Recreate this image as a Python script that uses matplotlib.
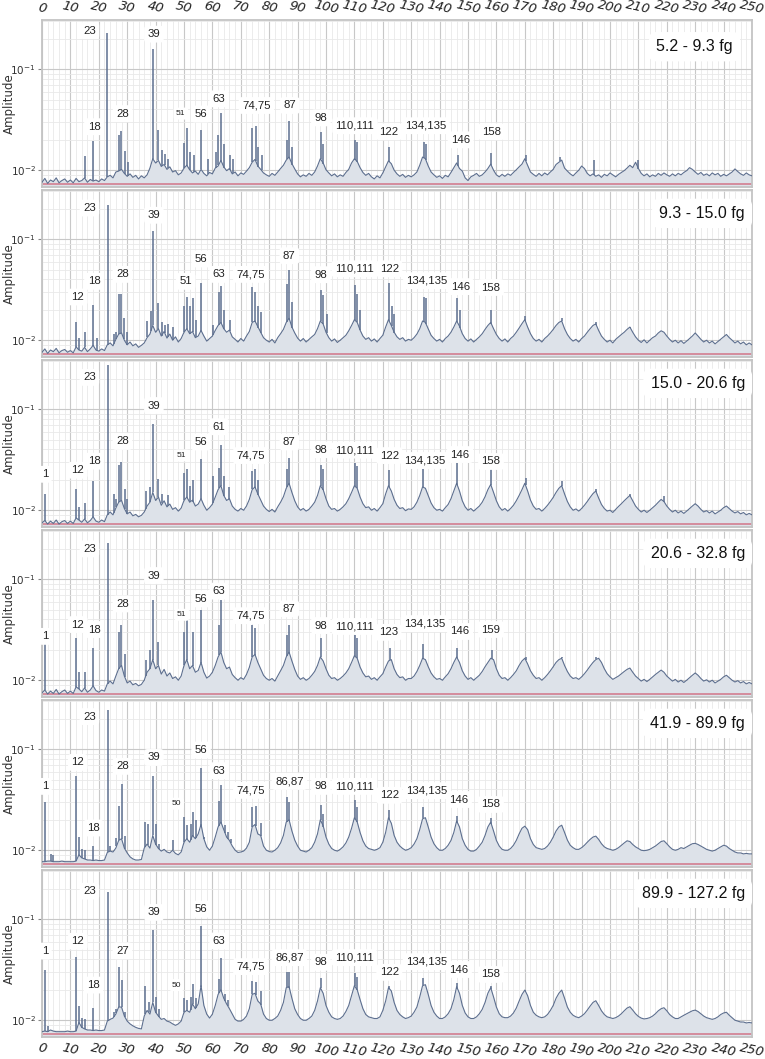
import numpy as np
import matplotlib.pyplot as plt
from matplotlib.ticker import MultipleLocator, LogLocator, NullFormatter

# mass ranges of the six panels
ranges = ["5.2 - 9.3 fg", "9.3 - 15.0 fg", "15.0 - 20.6 fg",
          "20.6 - 32.8 fg", "41.9 - 89.9 fg", "89.9 - 127.2 fg"]

# noise floor / broad peaks at harmonic 0..250 (step 1), amplitude in units of 1e-3
floor_1 = [7.6, 8.3, 7.4, 8.0, 7.7, 8.4, 7.5, 7.9, 8.2, 7.6,
           8.0, 7.5, 8.3, 7.7, 7.9, 8.4, 7.6, 8.1, 7.8, 8.0,
           7.7, 8.2, 7.9, 8.6, 8.9, 8.4, 9.6, 9.8, 10.2, 9.3,
           8.7, 9.2, 8.5, 8.9, 8.2, 8.8, 8.4, 9.0, 10.5, 13.0,
           11.8, 12.5, 10.9, 11.4, 10.2, 10.8, 9.6, 9.9, 9.0, 9.4,
           10.5, 11.2, 10.1, 9.4, 9.8, 9.1, 10.2, 9.3, 8.8, 9.5,
           9.2, 10.5, 11.0, 12.5, 10.8, 9.9, 10.4, 9.2, 9.6, 8.8,
           9.4, 9.1, 9.8, 10.6, 12.0, 12.8, 11.0, 10.2, 9.4, 9.0,
           8.7, 9.3, 8.9, 9.6, 10.4, 11.2, 12.6, 13.5, 11.6, 10.3,
           9.2, 8.6, 9.0, 8.7, 9.3, 8.9, 9.6, 11.0, 13.0, 11.8,
           10.1, 9.4, 8.8, 9.2, 8.6, 9.0, 8.7, 9.5, 10.2, 11.8,
           13.0, 12.2, 10.6, 9.5, 8.9, 9.3, 8.6, 8.2, 8.8, 8.4,
           9.4, 10.8, 12.4, 11.6, 10.0, 9.2, 8.7, 9.1, 8.5, 8.9,
           8.6, 9.0, 9.6, 11.2, 13.5, 13.0, 11.0, 9.6, 9.0, 8.5,
           8.8, 8.3, 8.9, 8.6, 9.5, 10.6, 11.8, 10.4, 9.8, 8.4,
           7.9, 8.6, 8.9, 9.3, 8.7, 9.0, 9.6, 10.4, 11.5, 10.0,
           9.0, 8.6, 9.1, 8.7, 9.2, 8.9, 9.5, 10.1, 10.8, 11.5,
           13.0, 11.2, 9.6, 9.1, 8.7, 9.3, 8.8, 9.4, 9.0, 9.6,
           10.2, 11.4, 12.0, 12.6, 10.5, 9.8, 9.2, 8.8, 9.4, 10.0,
           11.0, 10.4, 9.3, 8.8, 9.2, 8.7, 9.0, 8.5, 9.1, 8.8,
           9.4, 9.0, 8.6, 9.1, 9.5, 9.9, 10.5, 11.2, 10.6, 12.0,
           10.4, 9.3, 8.8, 9.2, 8.6, 9.0, 8.7, 9.3, 8.9, 9.4,
           9.0, 8.7, 9.2, 8.8, 9.3, 9.0, 9.5, 9.9, 10.6, 10.2,
           9.6, 9.1, 9.5, 8.9, 9.2, 8.8, 9.4, 9.0, 9.3, 8.7,
           9.1, 8.8, 9.2, 9.6, 10.3, 9.7, 9.2, 8.9, 9.4, 9.0,
           8.8]
floor_2 = [7.6, 8.2, 7.4, 8.0, 7.7, 8.3, 7.5, 7.9, 8.1, 7.6,
           7.9, 7.5, 8.6, 8.0, 7.8, 8.5, 7.7, 8.2, 8.9, 8.0,
           7.8, 8.2, 7.9, 9.0, 9.4, 8.8, 10.2, 11.5, 11.8, 10.0,
           9.0, 9.6, 8.8, 9.2, 8.5, 8.9, 9.4, 10.6, 11.5, 14.0,
           12.0, 13.0, 11.0, 12.2, 10.5, 11.5, 10.0, 10.8, 9.6, 10.4,
           12.0, 13.0, 11.6, 12.2, 10.6, 11.0, 12.5, 11.0, 9.8, 10.4,
           11.0, 12.5, 14.0, 15.0, 13.0, 12.0, 12.6, 10.8, 10.2, 9.6,
           10.4, 9.8, 11.0, 12.2, 15.0, 15.5, 13.6, 12.0, 10.6, 10.0,
           9.6, 10.2, 9.4, 10.6, 11.6, 12.8, 15.0, 16.5, 13.5, 11.8,
           10.5, 9.8, 10.4, 9.6, 10.2, 10.8, 11.4, 13.0, 15.5, 14.5,
           12.0, 10.6, 9.8, 10.3, 9.5, 10.0, 10.6, 11.2, 12.4, 14.0,
           16.0, 15.0, 12.6, 11.0, 10.2, 10.6, 9.8, 10.3, 9.6, 10.4,
           11.2, 13.5, 16.0, 14.0, 12.0, 10.8, 10.2, 10.6, 9.8, 10.2,
           10.0, 10.6, 11.5, 13.0, 15.5, 15.0, 13.0, 11.2, 10.4, 9.8,
           10.2, 9.6, 10.4, 11.0, 12.0, 13.5, 15.5, 13.8, 11.6, 10.4,
           9.8, 10.3, 9.6, 10.2, 10.8, 11.6, 12.8, 14.0, 15.0, 13.0,
           11.4, 10.4, 9.8, 10.3, 9.6, 10.4, 11.0, 12.0, 13.2, 14.6,
           16.0, 13.5, 11.6, 10.4, 9.8, 10.2, 9.6, 10.4, 11.0, 11.8,
           12.8, 14.0, 15.0, 15.5, 13.0, 11.4, 10.4, 9.8, 10.2, 9.6,
           10.4, 11.0, 12.0, 13.0, 14.0, 14.5, 12.5, 11.0, 10.2, 9.6,
           10.0, 9.4, 10.2, 10.8, 11.4, 12.0, 12.8, 13.5, 12.0, 10.8,
           10.0, 9.5, 10.1, 9.4, 10.0, 10.6, 11.0, 11.8, 12.4, 12.0,
           11.0, 10.2, 9.6, 10.0, 9.4, 9.9, 9.3, 9.8, 10.4, 11.0,
           11.8, 11.0, 10.2, 9.6, 10.0, 9.4, 9.8, 9.2, 9.7, 10.2,
           10.8, 11.4, 10.6, 10.0, 9.4, 9.8, 9.2, 9.6, 9.0, 9.4,
           9.0]
floor_3 = [7.5, 7.9, 7.3, 7.8, 7.4, 8.0, 7.3, 7.7, 7.9, 7.4,
           7.8, 7.4, 8.4, 8.0, 7.6, 8.2, 7.5, 7.9, 8.6, 7.8,
           7.6, 8.0, 7.7, 9.0, 9.6, 9.0, 10.5, 12.0, 12.5, 10.4,
           9.2, 9.6, 8.8, 9.1, 8.6, 8.9, 9.6, 11.0, 12.0, 15.0,
           12.5, 13.5, 11.2, 12.4, 10.8, 11.5, 10.2, 10.6, 9.8, 10.5,
           12.5, 13.5, 12.0, 12.6, 11.0, 11.5, 13.0, 11.2, 10.0, 10.6,
           11.5, 13.5, 16.0, 17.5, 14.0, 12.5, 13.0, 11.0, 10.2, 9.8,
           10.4, 10.0, 11.0, 12.8, 16.0, 17.0, 14.5, 12.6, 11.0, 10.2,
           9.7, 10.2, 9.6, 10.8, 12.0, 13.6, 16.5, 18.5, 15.0, 12.4,
           10.8, 10.0, 10.4, 9.8, 10.2, 11.0, 12.0, 14.0, 17.5, 16.0,
           13.0, 11.0, 10.2, 10.4, 9.8, 10.2, 10.8, 11.6, 13.0, 15.0,
           17.5, 16.5, 13.5, 11.6, 10.6, 10.8, 10.0, 10.4, 9.8, 10.6,
           11.6, 14.5, 17.5, 15.5, 12.8, 11.2, 10.4, 10.6, 9.9, 10.3,
           10.2, 10.8, 12.0, 14.0, 17.0, 16.5, 14.0, 11.8, 10.6, 10.0,
           10.2, 9.8, 10.6, 11.4, 13.0, 15.5, 18.5, 15.5, 12.4, 10.8,
           10.0, 10.4, 9.8, 10.4, 11.0, 12.0, 13.6, 16.0, 18.0, 15.0,
           12.4, 10.8, 10.0, 10.4, 9.8, 10.4, 11.2, 12.4, 14.0, 16.0,
           18.5, 15.5, 12.6, 11.0, 10.2, 10.4, 9.8, 10.4, 11.2, 12.2,
           13.4, 15.0, 16.5, 17.5, 14.5, 12.2, 10.8, 10.0, 10.3, 9.8,
           10.4, 11.2, 12.2, 13.4, 14.6, 15.5, 13.2, 11.4, 10.4, 9.8,
           10.0, 9.5, 10.2, 10.9, 11.6, 12.4, 13.2, 14.0, 12.4, 11.0,
           10.2, 9.6, 10.0, 9.5, 10.0, 10.6, 11.2, 12.0, 12.8, 12.2,
           11.0, 10.2, 9.6, 10.0, 9.4, 9.8, 9.3, 9.8, 10.4, 11.0,
           11.6, 11.0, 10.2, 9.6, 9.9, 9.4, 9.8, 9.2, 9.6, 10.0,
           10.6, 11.0, 10.4, 9.8, 9.4, 9.7, 9.2, 9.5, 9.0, 9.3,
           9.0]
floor_4 = [7.5, 8.0, 7.3, 7.8, 7.4, 8.1, 7.3, 7.7, 8.0, 7.4,
           7.8, 7.4, 8.6, 8.2, 7.7, 8.4, 7.6, 8.0, 8.8, 7.9,
           7.6, 8.0, 7.8, 9.2, 9.8, 9.2, 11.0, 13.0, 14.0, 11.0,
           9.4, 9.8, 9.0, 9.3, 8.8, 9.1, 10.0, 12.0, 13.0, 16.0,
           13.0, 14.0, 11.5, 12.8, 11.0, 11.8, 10.4, 10.8, 10.0, 11.0,
           14.0, 16.0, 13.0, 14.0, 12.0, 12.5, 15.0, 12.0, 10.5, 11.0,
           12.0, 14.0, 17.0, 19.0, 15.0, 13.0, 13.5, 11.4, 10.6, 10.0,
           10.6, 10.2, 11.4, 13.4, 17.0, 18.0, 15.0, 13.0, 11.2, 10.4,
           10.0, 10.4, 9.8, 11.0, 12.4, 14.0, 17.0, 19.0, 15.5, 12.8,
           11.0, 10.2, 10.6, 10.0, 10.4, 11.2, 12.2, 14.0, 17.0, 15.5,
           13.0, 11.2, 10.4, 10.6, 10.0, 10.4, 11.0, 11.8, 13.0, 15.0,
           17.5, 16.5, 13.5, 11.8, 10.8, 11.0, 10.2, 10.6, 10.0, 10.8,
           11.6, 13.5, 15.5, 16.0, 13.0, 11.4, 10.6, 10.8, 10.0, 10.4,
           10.4, 11.0, 12.2, 14.0, 16.5, 16.0, 13.6, 11.8, 10.8, 10.2,
           10.4, 10.0, 10.8, 11.6, 13.0, 15.0, 17.0, 15.0, 12.4, 11.0,
           10.2, 10.6, 10.0, 10.6, 11.2, 12.2, 13.6, 15.0, 16.5, 16.0,
           13.0, 11.2, 10.4, 10.6, 10.0, 10.6, 11.4, 12.4, 14.0, 15.5,
           16.5, 14.5, 12.4, 11.2, 10.4, 10.6, 10.0, 10.6, 11.4, 12.4,
           13.6, 15.0, 16.0, 16.5, 14.0, 12.2, 11.0, 10.4, 10.6, 10.2,
           10.8, 11.6, 12.6, 13.8, 15.0, 16.0, 16.5, 15.0, 13.0, 11.6,
           10.8, 10.2, 10.6, 11.0, 11.6, 12.2, 12.8, 13.2, 12.0, 11.0,
           10.4, 9.8, 10.2, 9.7, 10.2, 10.8, 11.4, 12.0, 12.6, 12.0,
           11.0, 10.4, 9.8, 10.2, 9.6, 10.0, 9.5, 10.0, 10.6, 11.2,
           11.8, 11.2, 10.4, 9.8, 10.1, 9.6, 10.0, 9.4, 9.8, 10.2,
           10.8, 11.2, 10.6, 10.0, 9.6, 9.9, 9.4, 9.7, 9.2, 9.5,
           9.2]
floor_5 = [7.7, 7.7, 7.8, 7.8, 7.7, 7.7, 7.7, 7.8, 7.7, 7.7,
           7.7, 7.7, 7.8, 9.0, 8.4, 8.2, 8.0, 8.0, 7.9, 8.0,
           7.9, 7.9, 8.0, 9.5, 9.8, 9.6, 10.5, 12.5, 13.0, 10.5,
           9.4, 8.6, 8.2, 8.0, 8.0, 8.1, 10.5, 11.5, 10.5, 14.0,
           11.5, 10.4, 9.8, 10.2, 9.6, 9.4, 10.0, 9.3, 9.0, 9.6,
           12.0, 13.0, 12.0, 14.0, 13.0, 14.5, 18.0, 13.0, 10.8, 10.0,
           11.0, 13.5, 17.0, 19.0, 16.0, 13.5, 12.5, 11.0, 10.0, 9.5,
           9.6, 9.8, 10.5, 12.0, 17.0, 18.0, 14.5, 14.0, 11.0, 10.0,
           9.7, 9.6, 10.0, 10.6, 11.8, 14.0, 19.0, 20.0, 15.5, 12.6,
           11.0, 10.0, 9.8, 9.6, 10.0, 10.6, 12.0, 14.5, 20.0, 17.5,
           13.5, 11.5, 10.4, 10.0, 9.8, 10.2, 10.8, 11.8, 13.5, 16.5,
           21.0, 19.0, 15.0, 12.4, 11.0, 10.4, 10.2, 10.0, 10.2, 10.6,
           12.0, 15.0, 21.0, 18.5, 14.0, 12.0, 11.0, 10.4, 10.0, 10.2,
           10.6, 11.5, 13.0, 16.0, 20.5, 21.0, 17.0, 13.5, 11.6, 10.6,
           10.0, 10.0, 10.4, 11.2, 12.5, 15.0, 19.5, 17.0, 13.0, 11.2,
           10.2, 9.8, 9.8, 10.2, 11.0, 12.0, 14.0, 17.0, 19.0, 15.5,
           12.5, 11.0, 10.2, 10.0, 10.0, 10.4, 11.2, 12.5, 14.5, 16.5,
           17.3, 16.0, 13.0, 11.4, 10.6, 10.4, 10.2, 10.4, 11.0, 12.0,
           13.5, 15.5, 17.0, 17.7, 15.0, 12.6, 11.2, 10.6, 10.2, 10.2,
           10.6, 11.2, 12.0, 12.8, 13.5, 13.8, 12.8, 11.6, 10.8, 10.4,
           10.2, 10.0, 10.2, 10.6, 11.2, 11.8, 12.4, 12.2, 11.4, 10.8,
           10.4, 10.0, 9.9, 10.0, 10.2, 10.6, 11.0, 11.6, 12.2, 12.4,
           11.6, 10.8, 10.2, 10.0, 10.2, 10.6, 10.4, 10.8, 11.2, 11.6,
           11.7, 11.4, 11.0, 10.6, 10.2, 10.0, 9.8, 10.0, 10.4, 10.8,
           11.2, 11.0, 10.4, 10.0, 9.6, 9.4, 9.4, 9.2, 9.3, 9.2,
           9.2]
floor_6 = [7.7, 7.8, 7.7, 8.0, 7.8, 7.7, 7.7, 7.7, 7.7, 7.8,
           7.7, 7.7, 7.8, 9.5, 8.5, 8.2, 8.0, 8.0, 7.9, 8.0,
           7.9, 7.9, 8.0, 9.8, 10.2, 10.5, 11.5, 13.5, 13.5, 11.0,
           9.8, 9.2, 8.8, 8.5, 8.3, 8.2, 11.0, 12.5, 11.5, 15.0,
           12.0, 11.0, 10.2, 10.4, 9.8, 9.6, 9.2, 8.9, 9.2, 9.8,
           12.0, 12.5, 12.0, 14.5, 13.0, 14.5, 22.0, 14.0, 11.5, 10.5,
           11.5, 14.0, 18.0, 20.0, 16.5, 14.5, 13.0, 11.5, 10.2, 9.8,
           9.8, 10.2, 11.0, 13.0, 18.0, 18.5, 15.5, 14.5, 11.5, 10.4,
           10.0, 10.0, 10.4, 11.0, 12.5, 15.0, 21.0, 21.5, 16.5, 13.0,
           11.4, 10.4, 10.0, 10.0, 10.4, 11.0, 12.5, 15.5, 21.0, 18.5,
           14.0, 12.0, 10.8, 10.4, 10.2, 10.4, 11.0, 12.2, 14.0, 17.5,
           22.0, 20.0, 16.0, 13.0, 11.4, 10.8, 10.6, 10.4, 10.4, 10.8,
           12.5, 15.5, 21.0, 19.5, 15.0, 12.5, 11.4, 10.8, 10.4, 10.6,
           11.0, 12.0, 13.5, 17.0, 22.0, 22.5, 18.0, 14.0, 12.0, 11.0,
           10.4, 10.4, 10.8, 11.6, 13.0, 16.0, 21.5, 18.5, 14.0, 11.8,
           10.8, 10.4, 10.4, 10.8, 11.6, 12.8, 15.0, 18.5, 21.0, 17.0,
           13.5, 11.6, 10.8, 10.6, 10.6, 11.0, 11.8, 13.2, 15.5, 18.0,
           19.9, 17.5, 14.0, 12.0, 11.2, 10.8, 10.6, 10.8, 11.4, 12.5,
           14.0, 16.5, 18.5, 19.9, 16.5, 13.5, 12.0, 11.2, 10.8, 10.6,
           11.0, 11.6, 12.6, 13.8, 15.0, 15.6, 14.0, 12.4, 11.4, 10.8,
           10.6, 10.4, 10.6, 11.0, 11.6, 12.4, 13.2, 13.6, 12.6, 11.6,
           10.9, 10.5, 10.3, 10.4, 10.6, 11.0, 11.6, 12.4, 13.0, 13.3,
           12.4, 11.4, 10.8, 10.4, 10.4, 10.8, 11.2, 11.6, 12.0, 12.4,
           12.6, 12.2, 11.6, 11.0, 10.6, 10.4, 10.2, 10.4, 10.8, 11.4,
           11.8, 12.0, 11.2, 10.6, 10.0, 9.8, 9.6, 9.6, 9.4, 9.5,
           9.4]

# narrow lines: harmonic position and height (1e-3)
spike_x_1 = [15.0, 18.1, 23.0, 27.0, 27.9, 29.1, 30.2, 39.0, 41.0, 42.2, 43.2, 44.5,
             50.1, 51.2, 52.2, 53.5, 56.0, 58.5, 61.2, 62.1, 63.1, 64.2, 66.3, 67.3,
             74.1, 75.2, 76.2, 77.3, 86.2, 87.1, 88.2, 98.1, 99.1, 110.3, 111.0,
             122.3, 134.4, 135.2, 146.5, 158.2, 170.4, 182.5, 194.5, 210.0]
spike_y_1 = [13.8, 19.6, 228, 22.2, 24.5, 15.5, 12.0, 159, 25.0, 16.0, 14.5, 13.0,
             18.6, 26.5, 15.0, 14.0, 24.9, 13.0, 15.0, 22.2, 37.2, 18.0, 14.0, 13.0,
             26.0, 27.4, 17.0, 14.0, 20.0, 30.6, 17.0, 24.1, 18.0, 20.0, 19.0,
             16.8, 19.0, 18.1, 14.3, 14.8, 14.3, 13.5, 12.5, 12.7]
spike_x_2 = [12.0, 13.1, 15.0, 18.1, 19.5, 23.1, 25.2, 26.1, 27.0, 27.9, 28.9, 30.1,
             37.1, 38.3, 39.0, 41.0, 42.1, 43.2, 44.3, 46.0, 50.0, 51.1, 52.0, 53.1,
             54.2, 56.1, 60.1, 62.2, 63.1, 64.2, 66.2, 74.1, 75.1, 76.2, 77.2, 86.1,
             87.1, 88.2, 98.1, 99.0, 100.2, 110.2, 111.0, 112.0, 122.3, 123.1, 124.1,
             134.4, 135.3, 146.2, 147.3, 158.2, 170.2, 183.0, 195.2, 207.2]
spike_y_2 = [15.0, 10.5, 12.1, 22.1, 10.5, 219, 11.5, 12.1, 28.4, 29.0, 16.6, 12.0,
             15.5, 19.4, 120, 23.2, 15.0, 14.3, 14.5, 13.5, 22.0, 27.0, 21.7, 26.0,
             16.0, 37.0, 14.0, 30.2, 34.2, 20.0, 16.0, 33.8, 29.8, 22.0, 19.0, 36.4,
             49.1, 24.0, 31.4, 27.8, 18.0, 35.0, 28.4, 20.0, 37.0, 21.7, 18.0,
             27.0, 26.0, 26.0, 20.0, 20.0, 17.4, 16.6, 15.0, 13.5]
spike_x_3 = [1.05, 12.0, 13.1, 15.0, 18.1, 23.1, 25.2, 26.2, 27.0, 27.9, 29.1, 30.1,
             36.5, 38.0, 39.0, 41.0, 42.4, 44.3, 50.0, 51.1, 52.1, 53.3, 56.1, 60.2,
             62.3, 63.0, 64.2, 66.0, 74.1, 75.1, 76.2, 86.2, 87.1, 98.1, 99.0, 110.2,
             111.0, 122.3, 134.3, 146.2, 158.1, 170.3, 183.0, 195.2, 207.2, 219.0]
spike_y_3 = [14.5, 16.4, 10.8, 11.9, 19.6, 275, 14.5, 13.0, 27.8, 30.2, 16.2, 13.0,
             15.6, 16.8, 71.4, 20.3, 14.5, 14.0, 23.6, 25.8, 17.4, 20.0, 32.5, 21.8,
             26.0, 44.5, 22.0, 17.0, 24.5, 25.8, 20.0, 25.4, 33.0, 27.8, 25.4, 29.1,
             27.4, 25.0, 25.4, 31.8, 26.6, 21.0, 19.4, 16.2, 14.5, 13.8]
spike_x_4 = [1.05, 12.0, 13.1, 15.0, 18.1, 23.1, 27.0, 27.9, 29.1, 36.5, 38.0, 39.0,
             41.0, 50.0, 51.1, 53.1, 56.1, 62.3, 63.0, 74.1, 75.1, 86.2, 87.1, 98.1,
             110.2, 111.0, 122.6, 134.3, 146.2, 158.5, 170.3, 183.0, 195.2]
spike_y_4 = [25.0, 26.5, 12.0, 12.0, 21.0, 230, 30.0, 35.5, 18.0, 16.0, 20.0, 62.0,
             24.0, 30.0, 42.7, 30.0, 50.0, 35.0, 62.0, 35.0, 33.0, 28.0, 35.0, 26.0,
             28.0, 26.0, 20.9, 23.0, 21.0, 20.0, 17.0, 17.0, 17.0]
spike_x_5 = [1.0, 3.0, 4.0, 12.0, 13.1, 14.1, 15.0, 18.1, 23.1, 24.1, 26.2, 27.0,
             28.0, 29.1, 36.3, 37.3, 39.0, 40.3, 41.3, 46.0, 50.0, 51.1, 52.3, 53.1,
             54.2, 56.1, 57.1, 62.2, 63.1, 64.5, 65.5, 66.5, 74.1, 75.2, 77.1, 86.2,
             87.1, 98.1, 99.1, 110.2, 111.0, 122.3, 134.3, 146.3, 158.2]
spike_y_5 = [30.2, 9.1, 9.0, 54.2, 13.5, 10.2, 10.0, 11.0, 245, 11.0, 13.3, 27.6,
             45.5, 13.7, 18.9, 18.0, 55.0, 18.0, 11.4, 12.6, 21.2, 17.7, 18.0, 23.8,
             20.0, 65.3, 13.5, 30.6, 44.5, 17.7, 15.0, 13.0, 27.0, 27.5, 18.6, 33.8,
             30.0, 28.0, 23.0, 31.4, 27.0, 24.9, 27.0, 21.7, 20.7]
spike_x_6 = [1.0, 2.0, 12.0, 13.1, 14.1, 15.0, 18.1, 23.1, 25.2, 26.2, 27.0, 28.0,
             29.1, 36.3, 37.5, 39.0, 40.3, 41.3, 50.0, 51.1, 52.3, 53.1, 54.2, 56.1,
             62.2, 63.1, 64.5, 65.5, 74.1, 75.2, 77.1, 86.2, 87.1, 98.1, 110.2, 111.0,
             122.3, 134.3, 146.3, 158.2, 170.2, 183.0]
spike_y_6 = [31.6, 8.8, 41.9, 13.8, 10.5, 10.2, 13.3, 188, 12.0, 12.9, 34.0, 25.2,
             12.0, 21.7, 15.2, 78.6, 17.0, 13.0, 16.7, 16.0, 17.0, 22.6, 16.5, 86.8,
             25.6, 41.0, 18.0, 16.0, 24.7, 23.7, 19.6, 29.8, 29.8, 26.0, 29.3, 27.0,
             21.7, 26.0, 23.3, 22.0, 19.9, 19.9]

# peak annotations: text, anchor harmonic, anchor amplitude (1e-3)
label_text_1 = ["23", "18", "28", "39", "51", "56", "63", "74,75", "87", "98",
                "110,111", "122", "134,135", "146", "158"]
label_x_1 = [16.7, 18.3, 28.4, 39.4, 48.9, 55.9, 62.4, 75.5, 87.3, 98.2, 110.2, 122.2, 135.1, 147.4, 158.2]
label_y_1 = [242, 27.0, 36.4, 223, 36.4, 36.1, 51.0, 43.8, 43.8, 33.0, 27.6, 24.1, 27.6, 20.0, 24.1]

label_text_2 = ["12", "18", "23", "28", "39", "51", "56", "63", "74,75", "87", "98",
                "110,111", "122", "134,135", "146", "158"]
label_x_2 = [12.6, 18.3, 16.7, 28.3, 39.4, 50.6, 56.0, 62.4, 73.5, 87.1, 98.2, 110.0, 122.3, 135.6, 147.4, 158.1]
label_y_2 = [26.8, 38.3, 204, 44.9, 173, 38.3, 63.8, 44.9, 44.9, 68.8, 44.6, 51.0, 51.0, 38.9, 34.0, 33.3]

label_text_3 = ["1", "12", "18", "23", "28", "39", "51", "56", "61", "74,75", "87", "98",
                "110,111", "122", "134,135", "146", "158"]
label_x_3 = [1.1, 12.6, 18.3, 16.7, 28.3, 39.4, 49.2, 56.0, 62.3, 73.5, 87.1, 98.2, 110.0, 122.3, 134.8, 147.2, 158.1]
label_y_3 = [22.7, 24.9, 30.6, 207, 48.0, 109, 34.8, 47.4, 67.2, 34.8, 47.4, 39.8, 39.4, 34.8, 31.1, 35.6, 30.4]

label_text_4 = ["1", "12", "18", "23", "28", "39", "51", "56", "63", "74,75", "87", "98",
                "110,111", "123", "134,135", "146", "159"]
label_x_4 = [1.1, 12.6, 18.3, 16.7, 28.3, 39.4, 49.2, 56.0, 62.4, 73.5, 87.1, 98.2, 110.0, 122.0, 134.7, 147.2, 158.1]
label_y_4 = [27.2, 35.6, 31.8, 200, 57.0, 109, 44.5, 64.0, 76.4, 43.6, 51.0, 34.8, 34.1, 29.8, 36.4, 30.4, 31.8]

label_text_5 = ["1", "12", "18", "23", "28", "39", "50", "56", "63", "74,75", "86,87", "98",
                "110,111", "122", "134,135", "146", "158"]
label_x_5 = [1.1, 12.6, 18.1, 16.7, 28.3, 39.4, 47.4, 56.0, 62.4, 73.5, 87.1, 98.2, 110.0, 122.3, 135.5, 146.8, 158.1]
label_y_5 = [42.9, 74.2, 16.6, 211, 67.8, 83.0, 28.9, 98.4, 61.4, 39.2, 48.0, 42.9, 42.9, 35.0, 38.9, 31.8, 28.4]

label_text_6 = ["1", "12", "18", "23", "27", "39", "50", "56", "63", "74,75", "86,87", "98",
                "110,111", "122", "134,135", "146", "158"]
label_x_6 = [1.1, 12.6, 18.1, 16.7, 28.3, 39.4, 47.4, 56.0, 62.4, 73.5, 87.1, 98.2, 110.0, 122.3, 135.5, 146.8, 158.1]
label_y_6 = [48.4, 60.6, 22.3, 190, 48.7, 117, 22.3, 126, 61.0, 34.0, 41.7, 37.5, 41.7, 29.8, 38.0, 31.8, 28.4]

# which labels are printed in the small font (panel, text)
small_labels = [(0, "51"), (2, "51"), (3, "51"), (4, "50"), (5, "50")]

floors = [floor_1, floor_2, floor_3, floor_4, floor_5, floor_6]
spikes = [(spike_x_1, spike_y_1), (spike_x_2, spike_y_2), (spike_x_3, spike_y_3),
          (spike_x_4, spike_y_4), (spike_x_5, spike_y_5), (spike_x_6, spike_y_6)]
labels = [(label_text_1, label_x_1, label_y_1), (label_text_2, label_x_2, label_y_2),
          (label_text_3, label_x_3, label_y_3), (label_text_4, label_x_4, label_y_4),
          (label_text_5, label_x_5, label_y_5), (label_text_6, label_x_6, label_y_6)]

line_c = '#5d6f8f'
fill_c = '#dde2e9'
ref_level = 0.0073   # flat reference trace drawn in pink
ylo, yhi = 0.00682, 0.308

W, H = 765, 1059
fig, axes = plt.subplots(6, 1, figsize=(W / 100, H / 100), dpi=100)
fig.subplots_adjust(left=42 / W, right=752 / W, top=1 - 20 / H, bottom=1 - 1037 / H,
                    hspace=3 / 167)

for i, ax in enumerate(axes):
    fl = np.array(floors[i]) * 1e-3
    hx = np.arange(len(fl))
    sx = np.array(spikes[i][0])
    sy = np.array(spikes[i][1]) * 1e-3

    ax.set_yscale('log')
    ax.set_xlim(0, 250)
    ax.set_ylim(ylo, yhi)

    ax.fill_between(hx, ylo, fl, color=fill_c, lw=0, zorder=1)
    ax.axhline(ref_level, color='#d48c9c', lw=1.4, zorder=2)
    ax.plot(hx, fl, color=line_c, lw=0.8, zorder=3)
    base = np.interp(sx, hx, fl)
    ax.vlines(sx, base, np.maximum(sy, base), color=line_c, lw=1.1, zorder=3)

    # grid
    ax.xaxis.set_major_locator(MultipleLocator(10))
    ax.xaxis.set_minor_locator(MultipleLocator(2))
    ax.yaxis.set_major_locator(LogLocator(base=10))
    ax.yaxis.set_minor_locator(LogLocator(base=10, subs=np.arange(2, 10)))
    ax.yaxis.set_minor_formatter(NullFormatter())
    ax.grid(True, which='major', color='#c8c8c8', lw=0.8)
    ax.grid(True, which='minor', color='#e9e9e9', lw=0.6)
    ax.set_axisbelow(True)

    for s in ax.spines.values():
        s.set_color('#c4c4c4')
        s.set_linewidth(1.3)

    ax.tick_params(axis='y', which='major', labelsize=7.5, length=3, color='#888888',
                   labelcolor='#333333', pad=1.5)
    ax.tick_params(axis='y', which='minor', length=0)
    ax.tick_params(axis='x', which='both', length=0, bottom=False, top=False,
                   labelbottom=False, labeltop=False)
    ax.set_ylabel('Amplitude', fontsize=8.5, color='#333333', va='center')
    ax.yaxis.set_label_coords(-0.046, 0.5)

    # peak labels
    txt, lx, ly = labels[i]
    for t, x, y in zip(txt, lx, ly):
        small = (i, t) in small_labels
        ax.text(x, y * 1e-3, t, ha='center', va='center',
                fontsize=6 if small else 8.2, family='Liberation Sans', color='#222222',
                bbox=dict(boxstyle='round,pad=0.3', fc='white', ec='none'), zorder=6,
                clip_on=False)

    # mass range
    ax.text(0.99 if i else 0.973, 0.84 if i == 0 else 0.86, ranges[i], transform=ax.transAxes,
            ha='right', va='center', fontsize=11.5, family='Liberation Sans', color='#111111',
            bbox=dict(boxstyle='round,pad=0.45', fc='white', ec='none'), zorder=7)

# harmonic number labels, top of first and bottom of last panel
axes[0].tick_params(axis='x', labeltop=True, pad=3)
axes[-1].tick_params(axis='x', labelbottom=True, pad=3)
for ax in (axes[0], axes[-1]):
    for lab in ax.get_xticklabels():
        lab.set_fontstyle('italic')
        lab.set_fontsize(9.5)
        lab.set_rotation(-12)
        lab.set_color('#222222')

fig.savefig('out.png', dpi=100)
